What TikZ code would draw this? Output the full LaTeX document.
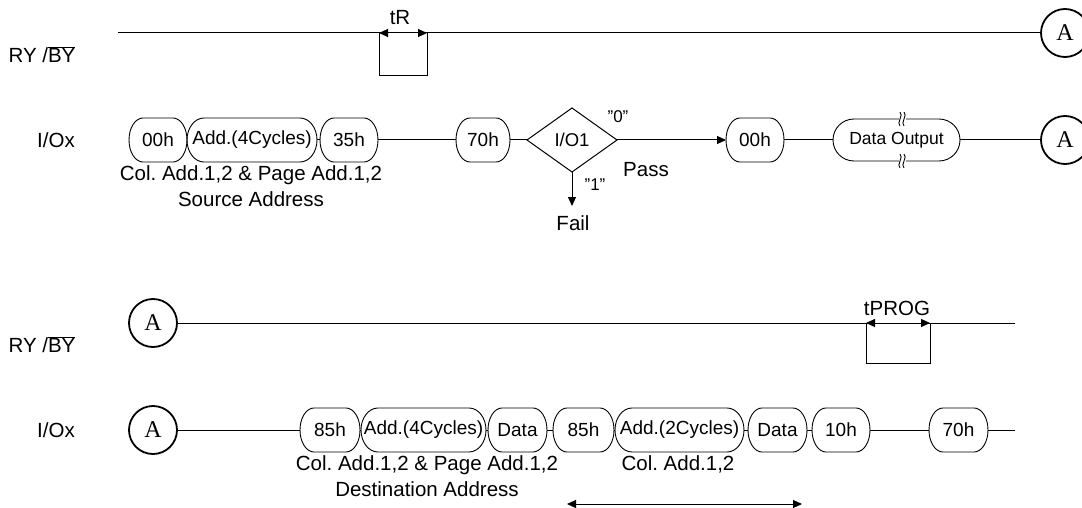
\documentclass[tikz,border=0pt]{standalone}
\usepackage{fontspec}
\setmainfont{Liberation Sans}
\newfontfamily\serifA{Liberation Serif}
\usetikzlibrary{shapes.geometric,arrows.meta}
\frenchspacing
\newcommand\pillout[3]{% name, bulge, half height
  \draw[pillln] ([xshift=#2]#1.north west) -- ([xshift=-#2]#1.north east)
    arc[start angle=90,end angle=-90,x radius=#2,y radius=#3]
    -- ([xshift=#2]#1.south west)
    arc[start angle=270,end angle=90,x radius=#2,y radius=#3] -- cycle;}
\newcommand\squig[2]{% x, y of crossing
  \fill[white] (#1-1.5,#2+4) rectangle (#1+5.5,#2-4);
  \draw[pillln] (#1,#2+7) .. controls (#1+4,#2+4) and (#1-4,#2-4) .. (#1,#2-7);
  \draw[pillln] (#1+4,#2+7) .. controls (#1+8,#2+4) and (#1,#2-4) .. (#1+4,#2-7);}
\begin{document}
\begin{tikzpicture}[x=1pt,y=1pt,
  every node/.style={inner sep=0pt,outer sep=0pt},
  lbl/.style={font=\fontsize{20.5}{24}\selectfont},
  qlbl/.style={font=\fontsize{17}{20}\selectfont},
  pilltxt/.style={rectangle,minimum height=44pt,font=\fontsize{19}{21}\selectfont},
  pillln/.style={line width=0.9pt},
  conn/.style={draw,circle,minimum size=48pt,line width=1.8pt,font=\serifA\fontsize{24}{26}\selectfont},
  sig/.style={line width=1pt},
  tip/.style={-{Triangle[length=9pt,width=8pt]}},
  dtip/.style={{Triangle[length=9pt,width=8pt]}-{Triangle[length=9pt,width=8pt]}}
]
\useasboundingbox (0,0) rectangle (1082,-508);
\clip (0,0) rectangle (1082,-508);

% ---------------- top section ----------------
\node[lbl] (ry1) at (42,-55) {RY /$\overline{\mbox{BY}}$};
\node[lbl] (io1) at (56,-140) {I/Ox};

\coordinate (s1) at (118,-33);
\node[conn] (A1) at (1065,-33) {A};
\draw[sig] (s1) -- (A1.west);
\coordinate (tr1) at (379,-33);
\coordinate (tr2) at (427,-33);
\coordinate (trb1) at (379,-76);
\coordinate (trb2) at (427,-76);
\draw[sig] (tr1) -- (trb1) -- (trb2) -- (tr2);
\draw[sig,dtip] (tr1) -- (tr2);
\node[lbl] (tR) at (400,-18) {tR};

\node[pilltxt,minimum width=58pt] (p00) at (158,-140) {00h};
\node[pilltxt,minimum width=130pt] (padd) at (252,-140) {Add.(4Cycles)};
\node[pilltxt,minimum width=58pt] (p35) at (349,-140) {35h};
\node[pilltxt,minimum width=54pt] (p70) at (483,-140) {70h};
\node[draw,diamond,minimum width=90pt,minimum height=64pt,line width=1pt,
      font=\fontsize{18.5}{20}\selectfont] (dia) at (572,-140) {I/O1};
\node[pilltxt,minimum width=58pt] (p00b) at (755,-140) {00h};
\node[pilltxt,minimum width=127pt,minimum height=42pt,font=\fontsize{17.5}{19}\selectfont] (pdo) at (896.5,-140) {Data Output};
\node[conn] (A2) at (1065,-140) {A};
\pillout{p00}{14pt}{22pt}
\pillout{padd}{17pt}{22pt}
\pillout{p35}{14pt}{22pt}
\pillout{p70}{14pt}{22pt}
\pillout{p00b}{14pt}{22pt}
\pillout{pdo}{21pt}{21pt}
\draw[sig] (p00.east) -- (padd.west);
\draw[sig] (padd.east) -- (p35.west);
\draw[sig] (p35.east) -- (p70.west);
\draw[sig] (p70.east) -- (dia.west);
\draw[sig,tip] (dia.east) -- (p00b.west);
\draw[sig] (p00b.east) -- (pdo.west);
\draw[sig] (pdo.east) -- (A2.west);
\squig{900}{-119}
\squig{900}{-161}
\coordinate (failend) at (572,-206);
\draw[sig,tip] (dia.south) -- (failend);
\node[qlbl] (q0) at (618,-117) {''0''};
\node[qlbl] (q1) at (595,-185) {''1''};
\node[lbl] (pass) at (646,-170) {Pass};
\node[lbl] (fail) at (573,-223) {Fail};
\node[lbl] (src1) at (251,-175) {Col. Add.1,2 \& Page Add.1,2};
\node[lbl] (src2) at (251,-199) {Source Address};

% ---------------- bottom section ----------------
\node[lbl] (ry2) at (42,-345) {RY /$\overline{\mbox{BY}}$};
\node[lbl] (io2) at (56,-430) {I/Ox};

\node[conn] (A3) at (153,-323) {A};
\coordinate (e3) at (1015,-323);
\draw[sig] (A3.east) -- (e3);
\coordinate (tp1) at (866,-323);
\coordinate (tp2) at (930,-323);
\coordinate (tpb1) at (866,-363);
\coordinate (tpb2) at (930,-363);
\draw[sig] (tp1) -- (tpb1) -- (tpb2) -- (tp2);
\draw[sig,dtip] (tp1) -- (tp2);
\node[lbl] (tprog) at (897,-308) {tPROG};

\node[conn] (A4) at (153,-430) {A};
\node[pilltxt,minimum width=60pt] (q85a) at (330,-430) {85h};
\node[pilltxt,minimum width=125pt] (qadd4) at (423.5,-430) {Add.(4Cycles)};
\node[pilltxt,minimum width=59pt] (qdata1) at (517.5,-430) {Data};
\node[pilltxt,minimum width=61pt] (q85b) at (583.5,-430) {85h};
\node[pilltxt,minimum width=129pt] (qadd2) at (679.5,-430) {Add.(2Cycles)};
\node[pilltxt,minimum width=59pt] (qdata2) at (777.5,-430) {Data};
\node[pilltxt,minimum width=58pt] (q10) at (841,-430) {10h};
\node[pilltxt,minimum width=59pt] (q70) at (958.5,-430) {70h};
\coordinate (e4) at (1015,-430);
\pillout{q85a}{14pt}{22pt}
\pillout{qadd4}{17pt}{22pt}
\pillout{qdata1}{14pt}{22pt}
\pillout{q85b}{14pt}{22pt}
\pillout{qadd2}{17pt}{22pt}
\pillout{qdata2}{14pt}{22pt}
\pillout{q10}{14pt}{22pt}
\pillout{q70}{14pt}{22pt}
\draw[sig] (A4.east) -- (q85a.west);
\draw[sig] (q85a.east) -- (qadd4.west);
\draw[sig] (qadd4.east) -- (qdata1.west);
\draw[sig] (qdata1.east) -- (q85b.west);
\draw[sig] (q85b.east) -- (qadd2.west);
\draw[sig] (qadd2.east) -- (qdata2.west);
\draw[sig] (qdata2.east) -- (q10.west);
\draw[sig] (q10.east) -- (q70.west);
\draw[sig] (q70.east) -- (e4);

\node[lbl] (dst1) at (427,-465) {Col. Add.1,2 \& Page Add.1,2};
\node[lbl] (dst2) at (427,-489) {Destination Address};
\node[lbl] (cad) at (678,-464) {Col. Add.1,2};
\coordinate (da1) at (567,-504);
\coordinate (da2) at (802,-504);
\draw[sig,dtip] (da1) -- (da2);
\end{tikzpicture}
\end{document}
